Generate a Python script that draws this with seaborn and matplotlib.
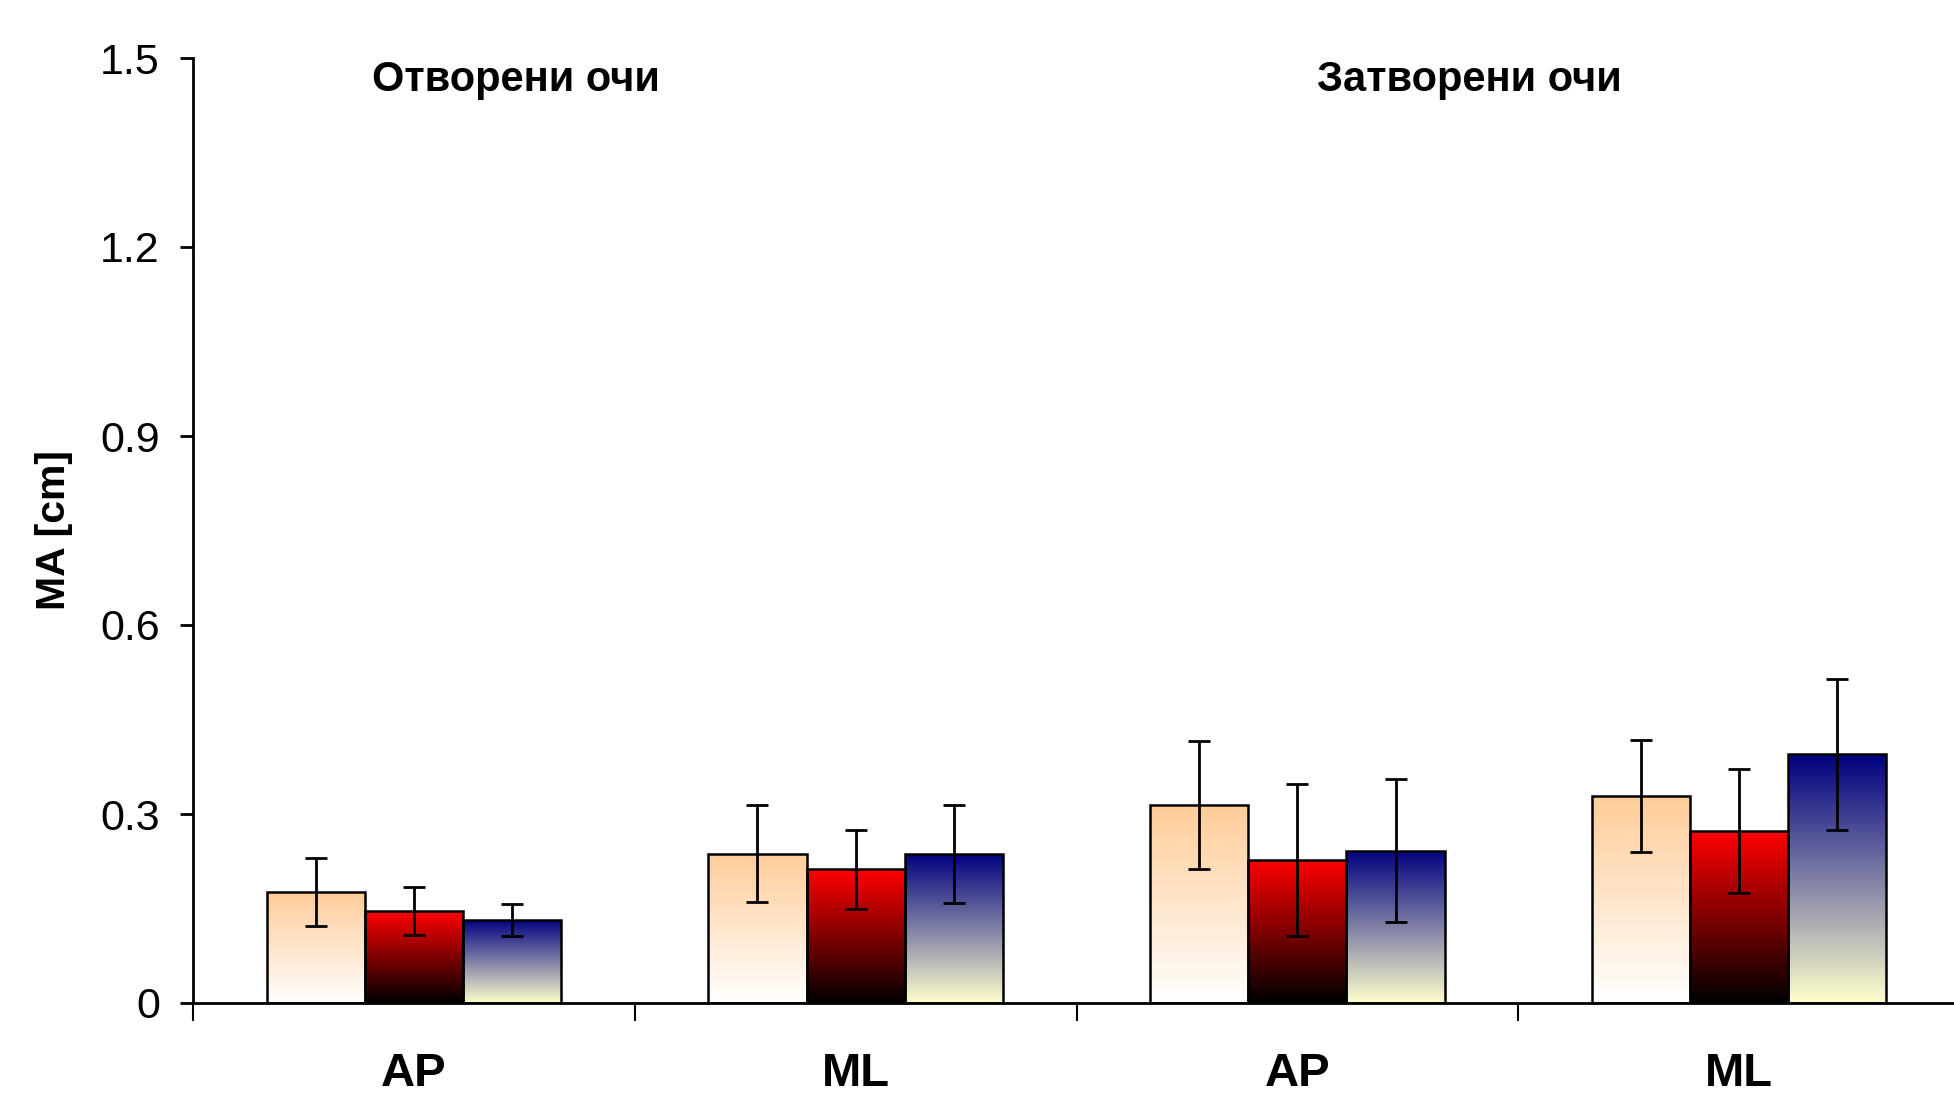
import numpy as np
import pandas as pd
import matplotlib
matplotlib.use("Agg")
import matplotlib.pyplot as plt
from matplotlib.colors import LinearSegmentedColormap
import seaborn as sns

# ---------------- data ----------------
conditions = ["Отворени очи", "Отворени очи", "Затворени очи", "Затворени очи"]
directions = ["AP", "ML", "AP", "ML"]
series_names = ["Серия 1", "Серия 2", "Серия 3"]

s1_mean = [0.176, 0.237, 0.314, 0.329]
s1_err = [0.054, 0.077, 0.102, 0.089]
s2_mean = [0.146, 0.212, 0.227, 0.273]
s2_err = [0.038, 0.063, 0.120, 0.099]
s3_mean = [0.132, 0.237, 0.242, 0.395]
s3_err = [0.025, 0.078, 0.114, 0.120]

y_ticks = [0, 0.3, 0.6, 0.9, 1.2, 1.5]
y_tick_labels = ["0", "0.3", "0.6", "0.9", "1.2", "1.5"]
y_label = "MA [cm]"

# gradient colours (top, bottom) per series
grad_top = ["#FFCC99", "#FF0000", "#000080"]
grad_bottom = ["#FFFFFF", "#000000", "#FFFFCC"]

# ---------------- build table ----------------
keys = [f"{c} {d}" for c, d in zip(conditions, directions)]
means = [s1_mean, s2_mean, s3_mean]
errs = [s1_err, s2_err, s3_err]
rows = []
for sname, m in zip(series_names, means):
    for k, v in zip(keys, m):
        rows.append({"key": k, "series": sname, "value": v})
df = pd.DataFrame(rows)

sns.set_theme(style="ticks")
plt.rcParams["font.family"] = ["Liberation Sans", "DejaVu Sans"]

W, H, DPI = 1954, 1098, 100
fig = plt.figure(figsize=(W / DPI, H / DPI), dpi=DPI)
fig.patch.set_facecolor("white")
ax = fig.add_axes([193 / W, 1 - 1003 / H, (1960 - 193) / W, (1003 - 58) / H])
ax.set_facecolor("white")

sns.barplot(data=df, x="key", y="value", hue="series", order=keys,
            hue_order=series_names, palette=grad_top, width=0.667,
            errorbar=None, edgecolor="black", linewidth=1.8,
            legend=False, ax=ax)

ax.set_xlim(-0.5, 3.5)
ax.set_ylim(0, 1.5)

bar_conts = list(ax.containers)[:len(series_names)]

# gradient fills + error bars
for ci, cont in enumerate(bar_conts):
    cmap = LinearSegmentedColormap.from_list(
        f"g{ci}", [grad_bottom[ci], grad_top[ci]])
    grad = np.linspace(0, 1, 256).reshape(-1, 1)
    xs = []
    for bar in cont.patches:
        x0, y0 = bar.get_x(), bar.get_y()
        w, h = bar.get_width(), bar.get_height()
        im = ax.imshow(grad, cmap=cmap, origin="lower", aspect="auto",
                       extent=(x0, x0 + w, y0, y0 + h), zorder=1.5,
                       interpolation="bilinear")
        im.set_clip_path(bar)
        bar.set_facecolor("none")
        bar.set_zorder(2)
        xs.append(x0 + w / 2)
    ax.errorbar(xs, means[ci], yerr=errs[ci], fmt="none", ecolor="black",
                elinewidth=2.0, capsize=8, capthick=2.0, zorder=3)

ax.set_xlim(-0.5, 3.5)
ax.set_ylim(0, 1.5)

# axes styling
for s in ["top", "right"]:
    ax.spines[s].set_visible(False)
for s in ["left", "bottom"]:
    ax.spines[s].set_color("black")
    ax.spines[s].set_linewidth(2.0)

ax.set_yticks(y_ticks)
ax.set_yticklabels(y_tick_labels)
ax.tick_params(axis="y", direction="out", length=9.4, width=2.0,
               color="black", pad=14.5, labelsize=31, labelcolor="black")

ax.set_xticks(range(len(keys)))
ax.set_xticklabels(directions, fontweight="bold")
ax.tick_params(axis="x", which="major", length=0, pad=35, labelsize=34,
               labelcolor="black")
ax.set_xticks([-0.5, 0.5, 1.5, 2.5, 3.5], minor=True)
ax.tick_params(axis="x", which="minor", direction="out", length=13,
               width=1.5, color="black")
ax.set_xlabel("")

ax.set_ylabel(y_label, fontsize=29.5, fontweight="bold", color="black")
ax.yaxis.set_label_coords((73 - 193) / (1960 - 193), 0.5)

# condition titles
cond_titles = ["Отворени очи", "Затворени очи"]
ax.text(0.231, 1.465, cond_titles[0], ha="center", va="center",
        fontsize=30, fontweight="bold", color="black")
ax.text(2.389, 1.465, cond_titles[1], ha="center", va="center",
        fontsize=30, fontweight="bold", color="black")

fig.savefig("out.png", dpi=DPI, facecolor="white")
